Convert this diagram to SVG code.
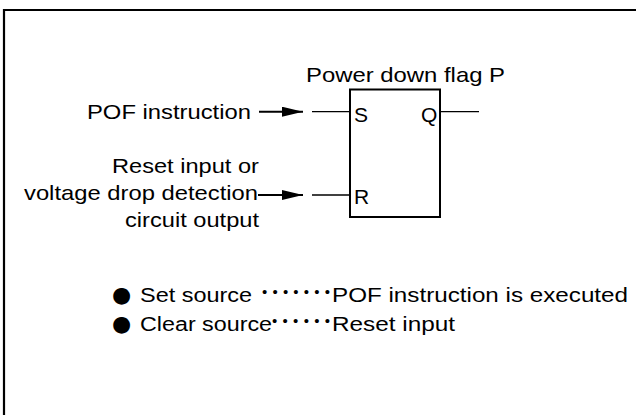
<svg xmlns="http://www.w3.org/2000/svg" width="636" height="415" viewBox="0 0 636 415">
<style>
text{font-family:"Liberation Sans",Arial,sans-serif;fill:#000}
.m{font-size:21px}
.s{font-size:19.5px}
.d{font-size:15px}
.bul{font-family:"DejaVu Sans",sans-serif;font-size:22px}
.w{stroke:#000;stroke-width:1.3;fill:none}
</style>
<defs>
<marker id="ah" markerWidth="21" markerHeight="10" refX="21" refY="5" orient="auto" markerUnits="userSpaceOnUse">
<path d="M0,0 L21,5 L0,10 Z" fill="#000"/>
</marker>
</defs>
<path d="M4,415 V10 H636" fill="none" stroke="#000" stroke-width="2.2"/>
<g id="flipflop">
<rect x="350" y="89.5" width="90" height="127.5" fill="#fff" stroke="#000" stroke-width="2"/>
<text class="m" x="306" y="82" textLength="199" lengthAdjust="spacingAndGlyphs">Power down flag P</text>
<text class="m" x="354" y="121.5">S</text>
<text class="m" x="421" y="121.5">Q</text>
<text class="m" x="354" y="204">R</text>
</g>
<g id="label-pof">
<text class="m" x="87" y="119" textLength="164" lengthAdjust="spacingAndGlyphs">POF instruction</text>
</g>
<g id="label-reset">
<text class="m" x="259" y="173" text-anchor="end" textLength="147" lengthAdjust="spacingAndGlyphs">Reset input or</text>
<text class="m" x="258" y="200" text-anchor="end" textLength="234" lengthAdjust="spacingAndGlyphs">voltage drop detection</text>
<text class="m" x="259" y="227" text-anchor="end" textLength="134" lengthAdjust="spacingAndGlyphs">circuit output</text>
</g>
<g id="connectors">
<line x1="259" y1="111.7" x2="303" y2="111.7" stroke="#000" stroke-width="2" marker-end="url(#ah)"/>
<line x1="258" y1="195" x2="303" y2="195" stroke="#000" stroke-width="2" marker-end="url(#ah)"/>
<line class="w" x1="312" y1="111.7" x2="350" y2="111.7"/>
<line class="w" x1="312" y1="195" x2="350" y2="195"/>
<line class="w" x1="440" y1="111.7" x2="479" y2="111.7"/>
</g>
<g id="notes">
<text class="bul" x="112" y="302">●</text>
<text class="s" x="140" y="302" textLength="112" lengthAdjust="spacingAndGlyphs">Set source</text>
<text class="d" x="262" y="297" textLength="68" lengthAdjust="spacing">•••••••</text>
<text class="s" x="332" y="302" textLength="296" lengthAdjust="spacingAndGlyphs">POF instruction is executed</text>
<text class="bul" x="112" y="330.5">●</text>
<text class="s" x="140" y="330.5" textLength="132" lengthAdjust="spacingAndGlyphs">Clear source</text>
<text class="d" x="272" y="325.5" textLength="58" lengthAdjust="spacing">••••••</text>
<text class="s" x="332" y="330.5" textLength="123" lengthAdjust="spacingAndGlyphs">Reset input</text>
</g>
</svg>
